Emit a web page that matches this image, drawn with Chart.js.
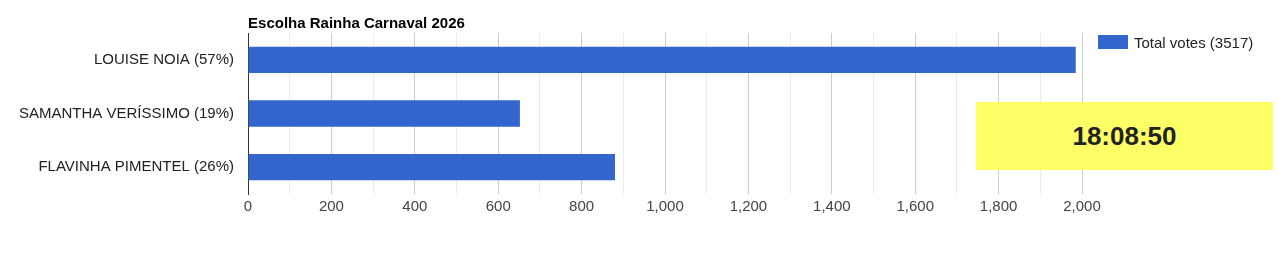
<!DOCTYPE html>
<html>
<head>
<meta charset="utf-8">
<script src="https://cdn.jsdelivr.net/npm/chart.js@4.4.1/dist/chart.umd.min.js"></script>
<style>
  body { margin: 0; background: #fff; }
  #wrap { position: relative; width: 1287px; height: 255px; }
  #clock {
    position: absolute; left: 976px; top: 102px; width: 297px; height: 68px;
    background: #ffff66; color: #222;
    font: bold 26px Arial, "Liberation Sans", sans-serif;
    display: flex; align-items: center; justify-content: center;
  }
  #legend {
    position: absolute; left: 1098px; top: 34px; height: 16px;
    display: flex; align-items: center;
    font: 15px Arial, "Liberation Sans", sans-serif; color: #222;
  }
  #legend span.box { display: inline-block; width: 30px; height: 14px; margin-right: 6px; }
</style>
</head>
<body>
<div id="wrap">
  <canvas id="myChart" width="1287" height="255"></canvas>
  <div id="legend"></div>
  <div id="clock">18:08:50</div>
</div>
<script>
const chartTitle = 'Escolha Rainha Carnaval 2026';
const candidates = ['LOUISE NOIA (57%)', 'SAMANTHA VERÍSSIMO (19%)', 'FLAVINHA PIMENTEL (26%)'];
const votes = [1985, 652, 880];
const seriesLabel = 'Total votes (3517)';
const barColor = '#3366cc';

// legenda feita em HTML para ficar no mesmo lugar do original
const legend = document.getElementById('legend');
legend.innerHTML = `<span class="box" style="background:${barColor}"></span><span>${seriesLabel}</span>`;

const ctx = document.getElementById('myChart').getContext('2d');
const chart = new Chart(ctx, {
    type: 'bar',
    data: {
        labels: candidates,
        datasets: [{
            label: seriesLabel,
            data: votes,
            backgroundColor: barColor,
            borderWidth: 0,
            barPercentage: 0.49,
            categoryPercentage: 1
        }]
    },
    options: {
        indexAxis: 'y',
        responsive: false,
        animation: false,
        layout: { padding: { left: 5, right: 205, top: 15, bottom: 35 } },
        plugins: {
            title: {
                display: true,
                text: chartTitle,
                align: 'start',
                fullSize: false,
                color: '#000',
                font: { family: 'Arial', size: 15, weight: 'bold' },
                padding: { top: 0, bottom: 0 }
            },
            legend: { display: false },
            tooltip: { enabled: false }
        },
        scales: {
            x: {
                min: 0,
                max: 2000,
                ticks: {
                    stepSize: 100,
                    autoSkip: false,
                    maxRotation: 0,
                    color: '#444',
                    font: { family: 'Arial', size: 15 },
                    padding: 4,
                    callback: v => (v % 200 === 0 ? v.toLocaleString('en-US') : '')
                },
                grid: {
                    drawTicks: false,
                    color: c => (c.tick && c.tick.value % 200 === 0 ? '#cccccc' : '#ebebeb')
                },
                border: { display: false }
            },
            y: {
                ticks: {
                    color: '#222',
                    font: { family: 'Arial', size: 15 },
                    padding: 14
                },
                grid: { display: false, drawTicks: false },
                border: { display: true, color: '#333', width: 1 }
            }
        }
    }
});
</script>
</body>
</html>
